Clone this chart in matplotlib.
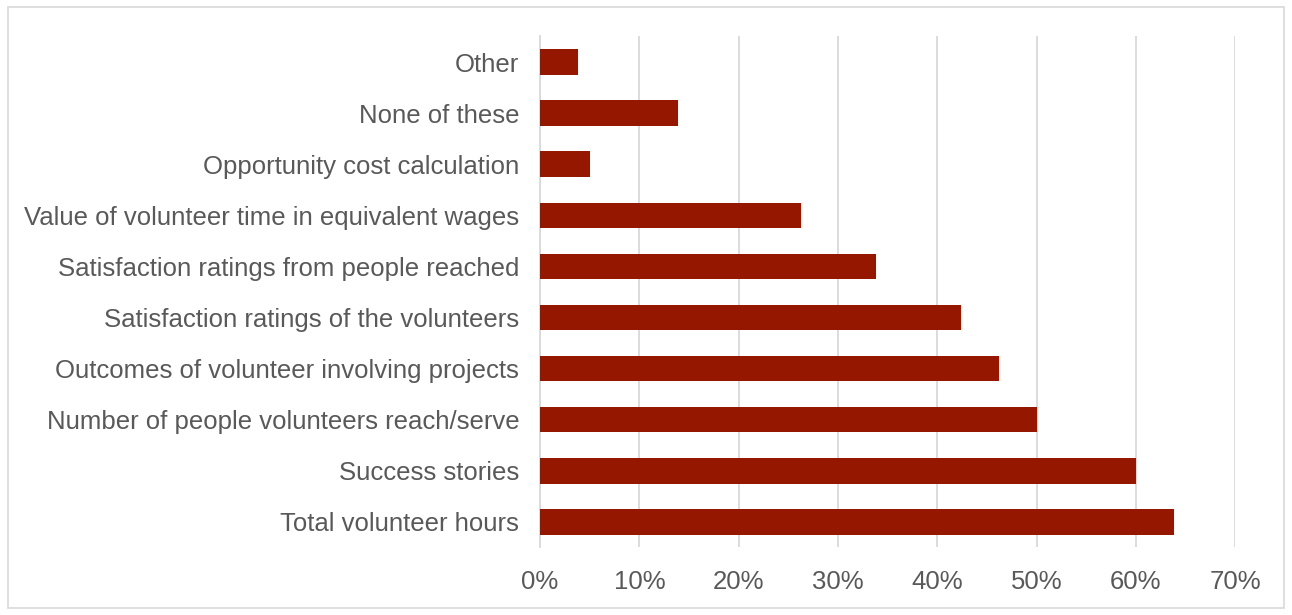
import matplotlib.pyplot as plt
from matplotlib.ticker import PercentFormatter
from matplotlib.patches import Rectangle

categories = ["Total volunteer hours", "Success stories",
              "Number of people volunteers reach/serve",
              "Outcomes of volunteer involving projects",
              "Satisfaction ratings of the volunteers",
              "Satisfaction ratings from people reached",
              "Value of volunteer time in equivalent wages",
              "Opportunity cost calculation", "None of these", "Other"]
shares = [63.8, 60.0, 50.0, 46.2, 42.4, 33.8, 26.3, 5.0, 13.9, 3.8]
xticks = [0, 10, 20, 30, 40, 50, 60, 70]

bar_color = "#951700"
text_color = "#595959"
grid_color = "#d9d9d9"

plt.rcParams['font.family'] = ['Liberation Sans', 'DejaVu Sans']

fig = plt.figure(figsize=(12.92, 6.15), dpi=100)
ax = fig.add_axes([0.418, 0.1098, 0.538, 0.8309])

ypos = range(len(categories))
ax.barh(ypos, shares, height=0.5, color=bar_color, zorder=3)

ax.set_xlim(0, 70)
ax.set_ylim(-0.5, len(categories) - 0.5)
ax.set_xticks(xticks)
ax.xaxis.set_major_formatter(PercentFormatter(decimals=0))
ax.set_yticks(list(ypos))
ax.set_yticklabels(categories)

ax.grid(axis='x', color=grid_color, linewidth=1.3, zorder=0)
ax.tick_params(axis='both', length=0, labelsize=18.5, colors=text_color)
ax.tick_params(axis='x', pad=16)
ax.tick_params(axis='y', pad=15)
for side in ['top', 'right', 'bottom']:
    ax.spines[side].set_visible(False)
ax.spines['left'].set_color(grid_color)
ax.spines['left'].set_linewidth(1.3)

# outer chart frame
fig.patches.append(Rectangle((0.006, 0.011), 0.988, 0.978, transform=fig.transFigure,
                             fill=False, edgecolor=grid_color, linewidth=1.2))

fig.savefig("out.png", dpi=100)
